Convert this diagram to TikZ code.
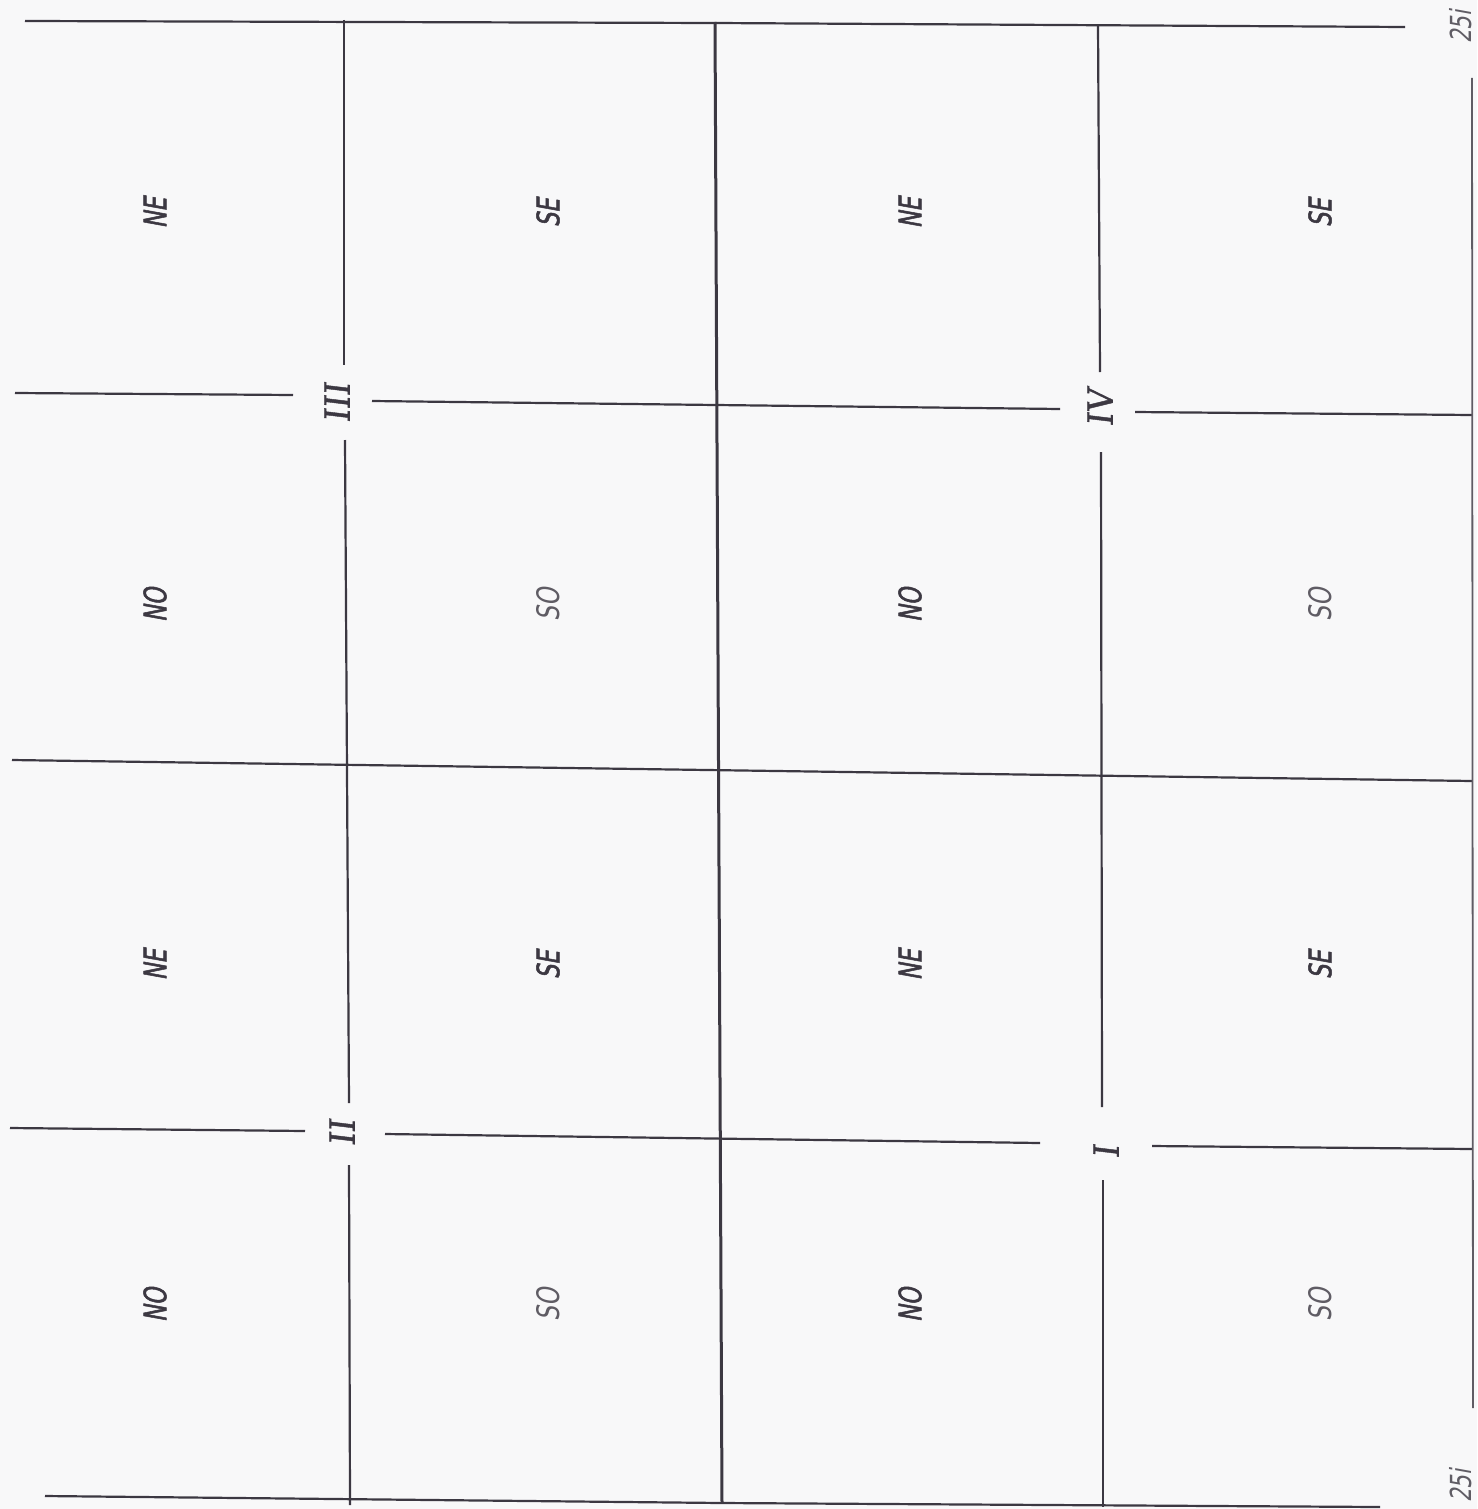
\documentclass[tikz,border=0pt]{standalone}
\usepackage{fontspec}
\newfontfamily\hand[FakeStretch=0.72,FakeSlant=0.18,FakeBold=1.6]{DejaVu Sans}
\newfontfamily\handroman[FakeStretch=0.95,FakeSlant=0.12,FakeBold=1.2]{DejaVu Serif}
\newfontfamily\handlight[FakeStretch=0.75,FakeSlant=0.18]{DejaVu Sans}
\definecolor{bg}{RGB}{248,248,249}
\definecolor{ink}{RGB}{60,56,66}
\definecolor{inksoft}{RGB}{95,92,100}
\tikzset{
  gridline/.style={draw=ink, line width=2.2pt},
  gridthick/.style={draw=ink, line width=3pt},
  lightline/.style={draw=inksoft, line width=1.8pt},
  quad/.style={font=\hand\fontsize{31}{31}\selectfont, text=ink, rotate=90, inner sep=0pt},
  quadsoft/.style={font=\handlight\fontsize{31}{31}\selectfont, text=inksoft, rotate=90, inner sep=0pt},
  roman/.style={font=\handroman\fontsize{35}{35}\selectfont, text=ink, rotate=90, inner sep=0pt},
  edge/.style={font=\handlight\fontsize{29}{29}\selectfont, text=inksoft, rotate=90, inner sep=0pt}
}
\begin{document}
\begin{tikzpicture}[x=1pt,y=-1pt]
\fill[bg] (0,0) rectangle (1477,1509);
\useasboundingbox (0,0) rectangle (1477,1509);

% top and bottom lines
\draw[gridline] (25,21) -- (715,23) -- (1405,27);
\draw[gridline] (45,1496) -- (722,1503) -- (1380,1507);

% horizontal line 1 (with gaps for III and IV)
\draw[gridline] (15,393) -- (293,395);
\draw[gridline] (372,401) -- (1060,409);
\draw[gridline] (1135,412) -- (1472,415);

% horizontal line 2
\draw[gridline] (12,760) -- (1472,781);

% horizontal line 3 (with gaps for II and I)
\draw[gridline] (10,1128) -- (305,1131);
\draw[gridline] (385,1134) -- (1040,1143);
\draw[gridline] (1152,1146) -- (1472,1149);

% vertical line 1
\draw[gridline] (344,20) -- (344,365);
\draw[gridline] (345,440) -- (349,1103);
\draw[gridline] (349,1165) -- (350,1505);

% vertical line 2 (thick)
\draw[gridthick] (715,22) -- (722,1503);

% vertical line 3
\draw[gridline] (1098,25) -- (1100,372);
\draw[gridline] (1101,452) -- (1102,1107);
\draw[gridline] (1103,1180) -- (1103,1507);

% right edge line
\draw[lightline] (1472,78) -- (1473,1408);

% quadrant labels
\node[quad] (a1) at (155,213) {NE};
\node[quad] (a2) at (155,605) {NO};
\node[quad] (a3) at (155,965) {NE};
\node[quad] (a4) at (155,1305) {NO};
\node[quad] (b1) at (548,213) {SE};
\node[quadsoft] (b2) at (548,605) {SO};
\node[quad] (b3) at (548,965) {SE};
\node[quadsoft] (b4) at (548,1305) {SO};
\node[quad] (c1) at (910,213) {NE};
\node[quad] (c2) at (910,605) {NO};
\node[quad] (c3) at (910,965) {NE};
\node[quad] (c4) at (910,1305) {NO};
\node[quad] (d1) at (1320,213) {SE};
\node[quadsoft] (d2) at (1320,605) {SO};
\node[quad] (d3) at (1320,965) {SE};
\node[quadsoft] (d4) at (1320,1305) {SO};

% roman numerals
\node[roman] (r3) at (337,403) {III};
\node[roman] (r4) at (1100,408) {IV};
\node[roman] (r2) at (342,1133) {II};
\node[roman] (r1) at (1106,1152) {I};

% edge labels
\node[edge] (e1) at (1461,27) {25i};
\node[edge] (e2) at (1461,1486) {25i};
\end{tikzpicture}
\end{document}
